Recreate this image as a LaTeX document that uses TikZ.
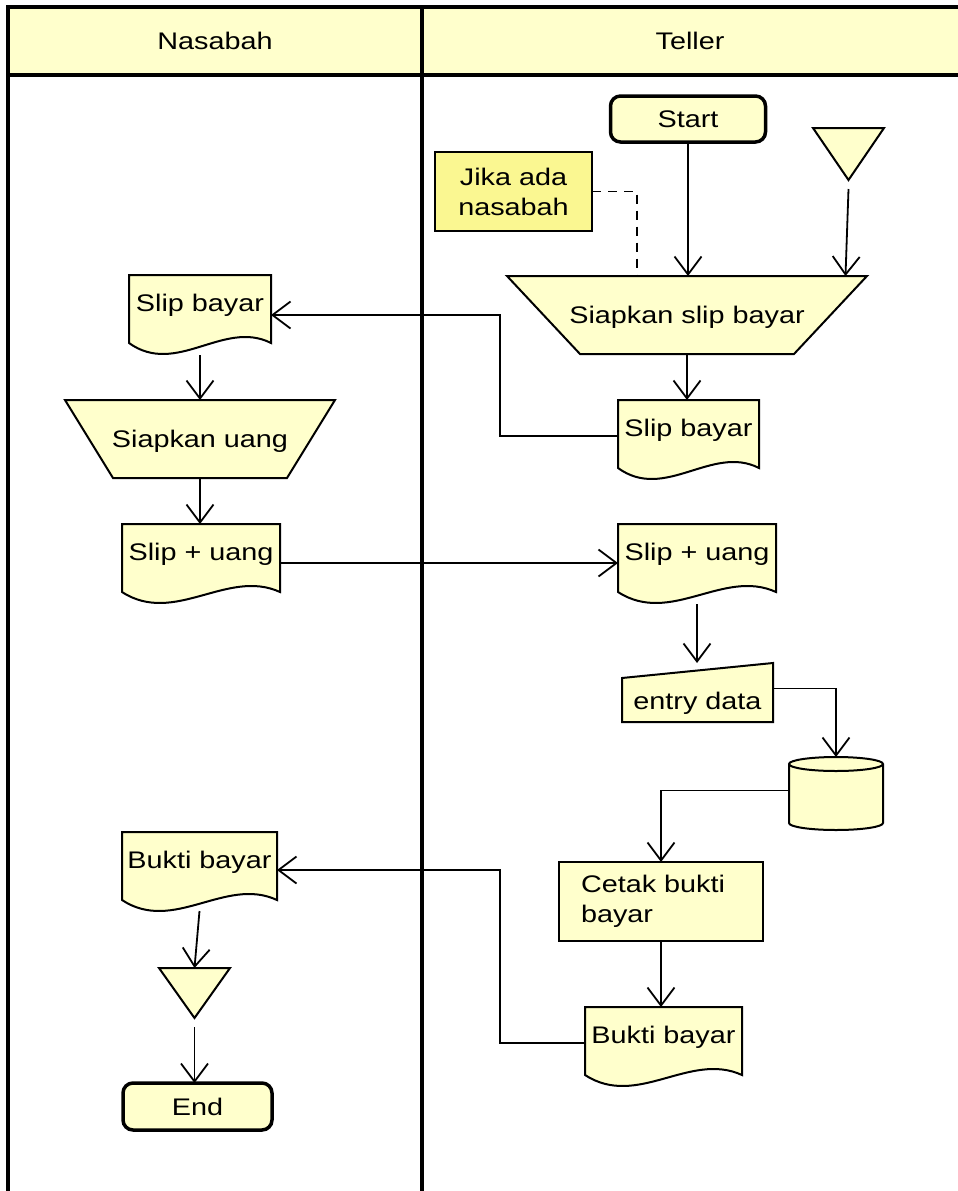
\documentclass[tikz,border=0pt]{standalone}
\usepackage{fontspec}
\setmainfont{Liberation Sans}[FakeStretch=1.2]
\usetikzlibrary{arrows.meta,calc}
\definecolor{yel}{RGB}{255,255,204}
\definecolor{noteyel}{RGB}{250,247,145}
\pgfdeclarelayer{bg}
\pgfsetlayers{bg,main}
\newcommand\docoutline[1]{%
  \path[shapeline] (#1.north west) -- (#1.north east) -- (#1.south east)
   .. controls ($(#1.south east)!0.3333!(#1.south west)+(0pt,24pt)$)
   and ($(#1.south east)!0.6667!(#1.south west)+(0pt,-34pt)$) .. (#1.south west) -- cycle;}
\newcommand\trapoutline[2]{%
  \path[shapeline] (#1.north west) -- (#1.north east) -- ([xshift=-#2]#1.south east) -- ([xshift=#2]#1.south west) -- cycle;}
\begin{document}
\begin{tikzpicture}[x=1pt,y=-1pt,
  font=\fontsize{24}{30}\selectfont,
  every node/.style={inner sep=0pt, outer sep=0pt},
  capc/.style={text height=17.5pt, text depth=0pt},
  docnode/.style={text height=36pt, text depth=32pt},
  shapeline/.style={draw=black, line width=2pt, fill=yel, line join=miter},
  lane/.style={line width=3.5pt, draw=black},
  conn/.style={line width=1.8pt, -{Straight Barb[length=18pt,width=27pt]}},
  dashline/.style={line width=1.8pt, dash pattern=on 9pt off 7pt},
  termbox/.style={capc, draw, line width=3.5pt, fill=yel, rounded corners=10pt}]
\useasboundingbox (0,0) rectangle (958,1191);

% nodes
\node (hN) at (215,41) {Nasabah};
\node (hT) at (690,41) {Teller};
\node[termbox, minimum width=155pt, minimum height=46pt] (start) at (688,119) {Start};
\node[minimum width=71pt, minimum height=52pt] (tri1) at (848.5,154) {};
\node[draw, line width=1.5pt, fill=noteyel, minimum width=157pt, minimum height=79pt, align=center] (note) at (513.5,191.5) {Jika ada\\nasabah};
\node[capc, minimum width=360pt, minimum height=78pt] (trap1) at (687,315) {Siapkan slip bayar};
\node[docnode, minimum width=141pt] (T1) at (688.5,434) {Slip bayar};
\node[docnode, minimum width=142pt] (L1) at (200,309) {Slip bayar};
\node[capc, minimum width=270pt, minimum height=78pt] (trap2) at (200,439) {Siapkan uang};
\node[docnode, minimum width=158pt] (L2) at (201,558) {Slip + uang};
\node[docnode, minimum width=158pt] (T2) at (697,558) {Slip + uang};
\node[minimum width=151pt, text height=46pt, text depth=13pt] (entry) at (697.5,692.5) {entry data};
\node[minimum width=94pt, minimum height=73pt] (cyl) at (836,793.5) {};
\node[draw, line width=2pt, fill=yel, minimum width=204pt, minimum height=79pt, text width=160pt, align=left] (cetak) at (661,901.5) {Cetak bukti\\bayar};
\node[docnode, minimum width=157pt] (T3) at (663.5,1041) {Bukti bayar};
\node[docnode, minimum width=155pt] (L3) at (199.5,866) {Bukti bayar};
\node[minimum width=71pt, minimum height=50pt] (tri2) at (194.5,993) {};
\node[termbox, minimum width=149pt, minimum height=47pt] (end) at (197.5,1106.5) {End};

\begin{pgfonlayer}{bg}
  \fill[yel] (8,7) rectangle (958,75);
  \draw[lane] (8,1195) -- (8,7) -- (962,7);
  \draw[lane] (8,75) -- (962,75);
  \draw[lane] (422,7) -- (422,1195);
  \path[shapeline] (tri1.north west) -- (tri1.north east) -- (tri1.south) -- cycle;
  \path[shapeline] (tri2.north west) -- (tri2.north east) -- (tri2.south) -- cycle;
  \trapoutline{trap1}{73pt}
  \trapoutline{trap2}{48pt}
  \docoutline{T1}
  \docoutline{L1}
  \docoutline{L2}
  \docoutline{T2}
  \docoutline{T3}
  \docoutline{L3}
  \path[shapeline] (entry.south west) -- ([yshift=-15pt]entry.north west) -- (entry.north east) -- (entry.south east) -- cycle;
  \path[shapeline] ([yshift=-7pt]cyl.north west) -- ([yshift=7pt]cyl.south west)
     arc[start angle=180, end angle=360, x radius=47pt, y radius=7pt]
     -- ([yshift=-7pt]cyl.north east)
     arc[start angle=0, end angle=180, x radius=47pt, y radius=7pt] -- cycle;
  \draw[line width=2pt] ([yshift=-7pt]cyl.north west) arc[start angle=180, end angle=360, x radius=47pt, y radius=7pt];
\end{pgfonlayer}

\coordinate (jx) at (500,0);
\coordinate (dx) at (637,0);

% connectors
\draw[conn] (start.south) -- (start.south |- trap1.north);
\draw[conn] ([yshift=-9pt]tri1.south) -- ([xshift=-3pt]tri1.south |- trap1.north);
\draw[dashline] (note.east) -| (dx |- trap1.north);
\draw[conn] (trap1.south) -- (trap1.south |- T1.north);
\draw[conn] ([yshift=-2pt]T1.west) -- ([yshift=-2pt]T1.west -| jx) |- ([yshift=-6pt]L1.east);
\draw[conn] ([yshift=-12pt]L1.south) -- (L1.south |- trap2.north);
\draw[conn] (trap2.south) -- (trap2.south |- L2.north);
\draw[conn] ([yshift=-5pt]L2.east) -- ([yshift=-5pt]T2.west);
\draw[conn] ([yshift=-12pt]T2.south) -- (T2.south |- entry.north);
\draw[conn] ([yshift=4pt]entry.east) -| (cyl.north);
\draw[conn] ([yshift=3pt]cyl.west) -| (cetak.north);
\draw[conn] (cetak.south) -- (cetak.south |- T3.north);
\draw[conn] ([yshift=-2pt]T3.west) -- ([yshift=-2pt]T3.west -| jx) |- ([yshift=-4pt]L3.east);
\draw[conn] ([yshift=-11pt]L3.south) -- (tri2.north);
\draw[conn] ([yshift=-9pt]tri2.south) -- (tri2.south |- end.north);
\end{tikzpicture}
\end{document}
